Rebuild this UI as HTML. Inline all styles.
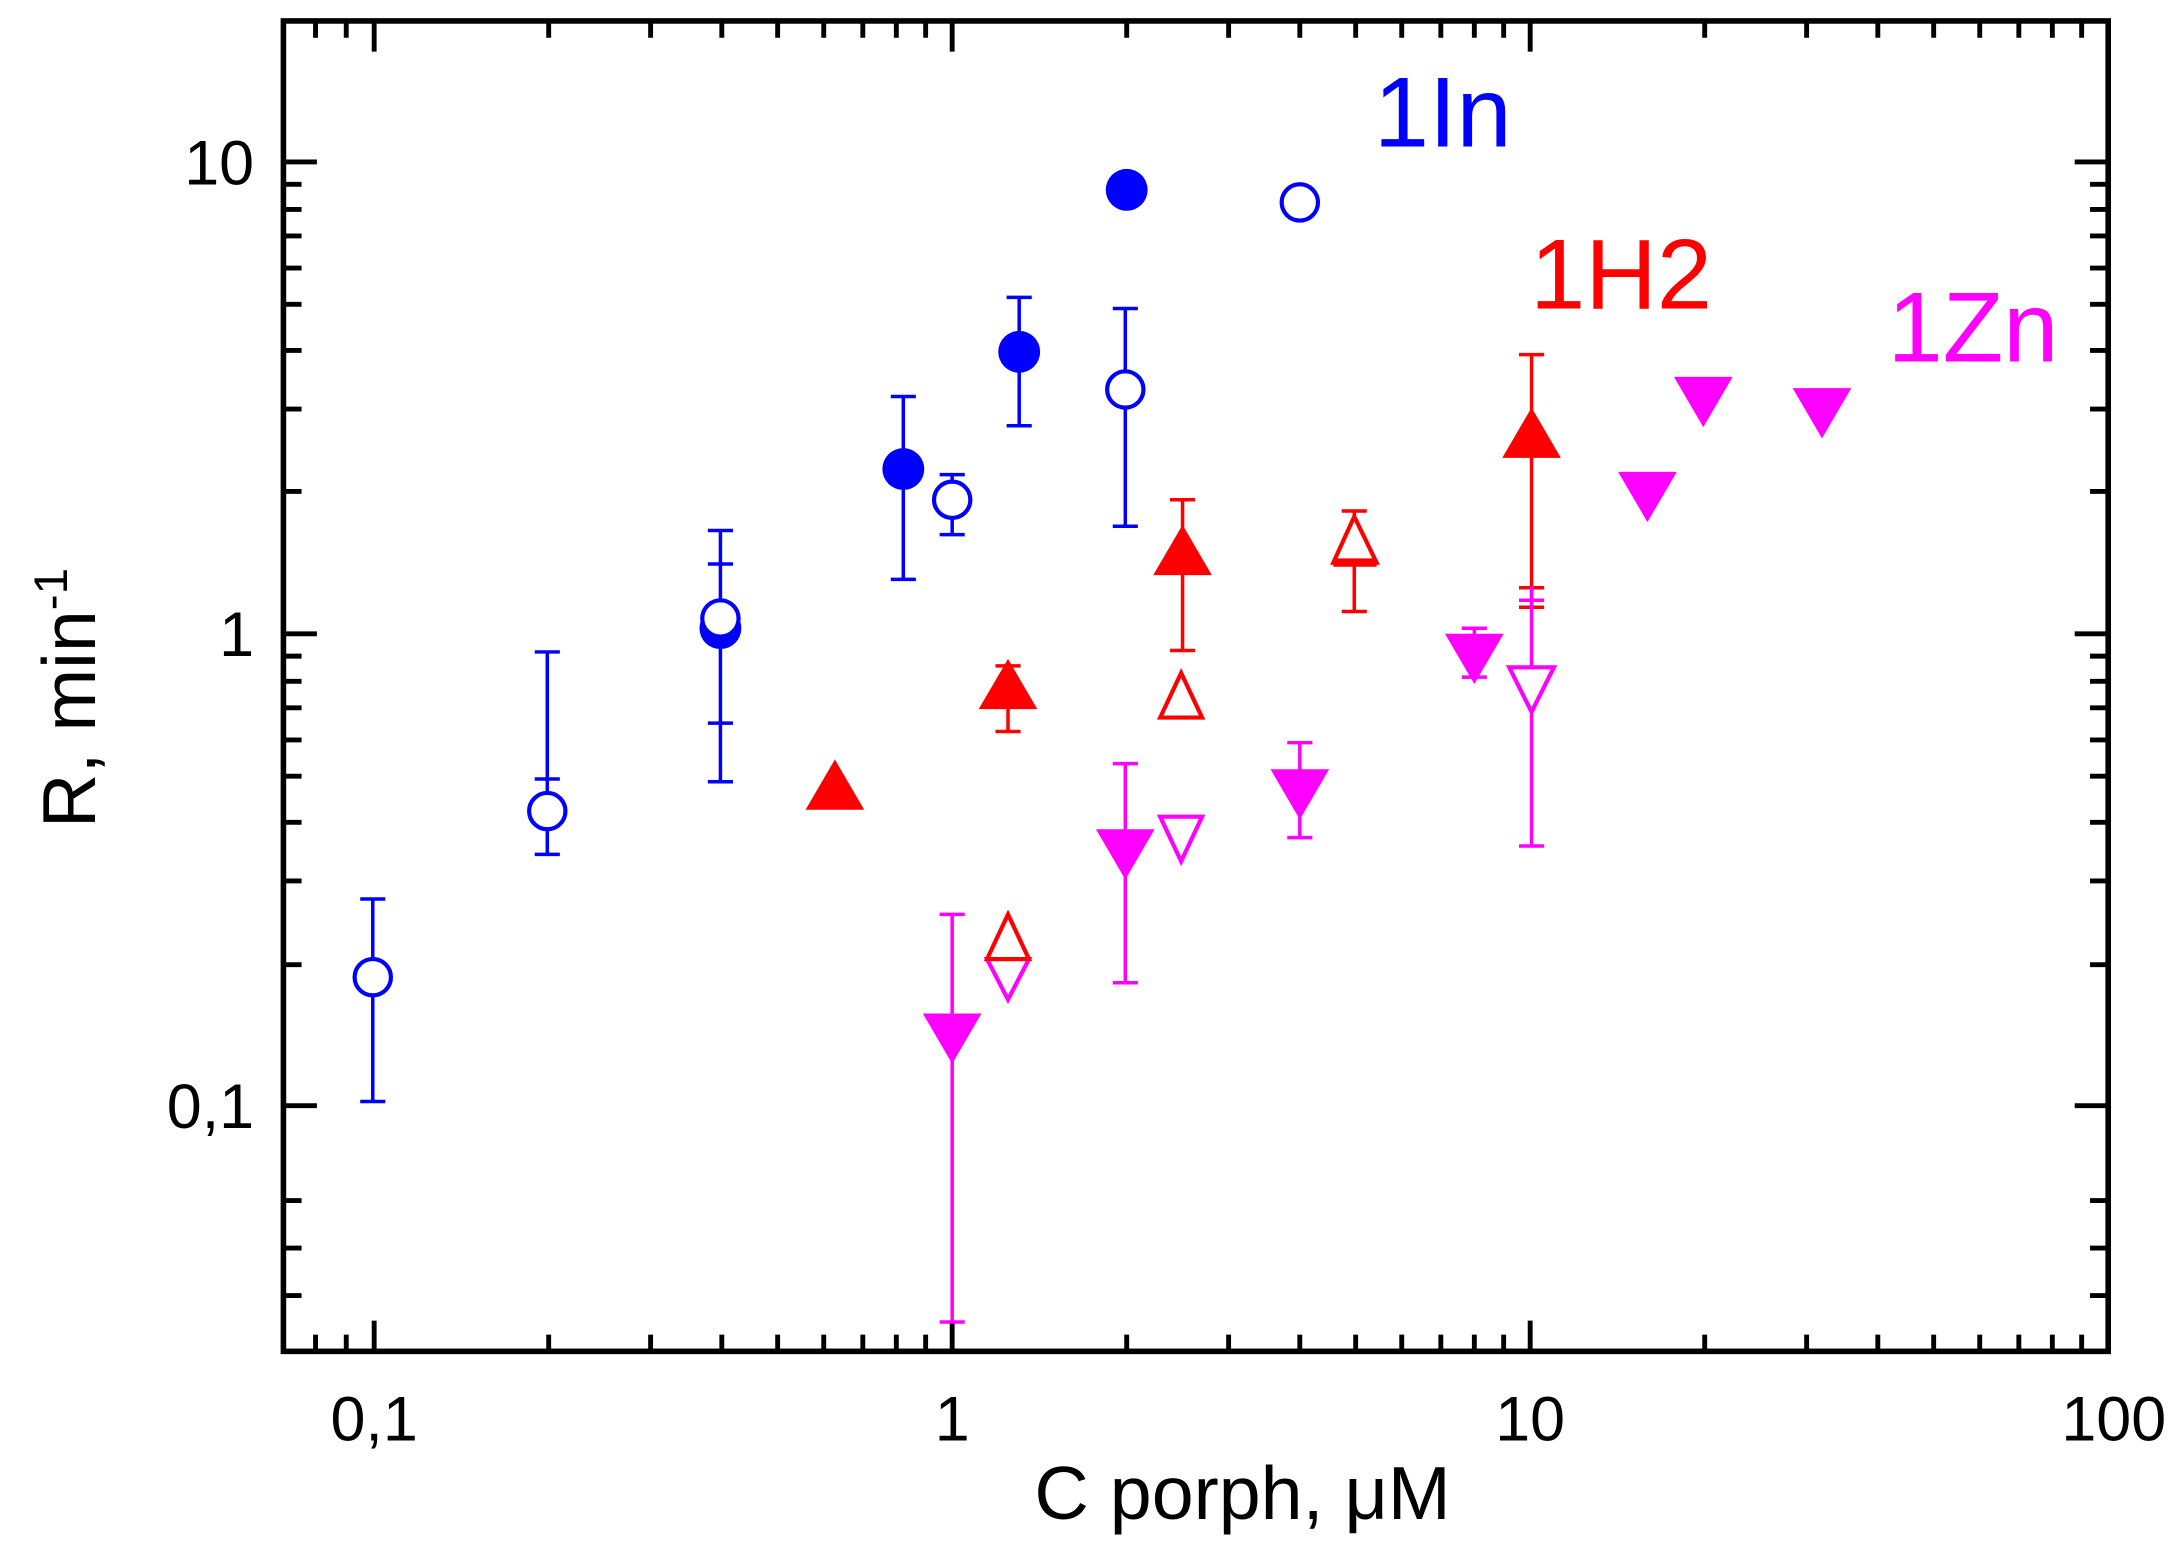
<!DOCTYPE html>
<html><head><meta charset="utf-8"><style>html,body{margin:0;padding:0;background:#fff}svg{display:block}</style></head>
<body>
<svg width="2178" height="1544" viewBox="0 0 1560 1106" preserveAspectRatio="none" xmlns="http://www.w3.org/2000/svg" font-family="Liberation Sans, Arial, sans-serif">
<defs>
<path id="tu" d="M0,-22 L21,14 L-21,14 Z"/>
<path id="td" d="M0,22 L21,-14 L-21,-14 Z"/>
</defs>
<rect x="0" y="0" width="1560" height="1106" fill="#fff"/>
<g stroke="#000" stroke-width="3.5">
<path d="M268,968v-22M682,968v-22M1096,968v-22M268,15v22M682,15v22M1096,15v22"/>
<path d="M226,968v-12M248,968v-12M393,968v-12M466,968v-12M517,968v-12M557,968v-12M590,968v-12M618,968v-12M642,968v-12M663,968v-12M807,968v-12M880,968v-12M931,968v-12M971,968v-12M1004,968v-12M1032,968v-12M1056,968v-12M1077,968v-12M1221,968v-12M1294,968v-12M1345,968v-12M1385,968v-12M1418,968v-12M1446,968v-12M1470,968v-12M1491,968v-12"/>
<path d="M226,15v12M248,15v12M393,15v12M466,15v12M517,15v12M557,15v12M590,15v12M618,15v12M642,15v12M663,15v12M807,15v12M880,15v12M931,15v12M971,15v12M1004,15v12M1032,15v12M1056,15v12M1077,15v12M1221,15v12M1294,15v12M1345,15v12M1385,15v12M1418,15v12M1446,15v12M1470,15v12M1491,15v12"/>
<path d="M203,116h24M203,454h24M203,792h24M1510,116h-24M1510,454h-24M1510,792h-24"/>
<path d="M203,928h13M203,894h13M203,860h13M203,691h13M203,631h13M203,589h13M203,556h13M203,530h13M203,507h13M203,488h13M203,470h13M203,352h13M203,293h13M203,251h13M203,218h13M203,192h13M203,169h13M203,150h13M203,132h13"/>
<path d="M1510,928h-13M1510,894h-13M1510,860h-13M1510,691h-13M1510,631h-13M1510,589h-13M1510,556h-13M1510,530h-13M1510,507h-13M1510,488h-13M1510,470h-13M1510,352h-13M1510,293h-13M1510,251h-13M1510,218h-13M1510,192h-13M1510,169h-13M1510,150h-13M1510,132h-13"/>
</g>
<rect x="203" y="15" width="1307" height="953" fill="none" stroke="#000" stroke-width="4"/>
<g font-size="45" fill="#000">
<text x="268" y="1032" text-anchor="middle">0,1</text>
<text x="682" y="1032" text-anchor="middle">1</text>
<text x="1096" y="1032" text-anchor="middle">10</text>
<text x="1514" y="1032" text-anchor="middle">100</text>
<text x="182" y="132" text-anchor="end">10</text>
<text x="182" y="470" text-anchor="end">1</text>
<text x="182" y="808" text-anchor="end">0,1</text>
</g>
<text x="890" y="1088" font-size="54" text-anchor="middle">C porph, μM</text>
<text transform="translate(68,500) rotate(-90)" font-size="54" text-anchor="middle">R, min<tspan font-size="34" dy="-20">-1</tspan></text>
<text x="984" y="105" font-size="71" fill="#0000ff">1In</text>
<text x="1096" y="221" font-size="71" fill="#ff0000">1H2</text>
<text x="1352" y="259" font-size="71" fill="#ff00ff">1Zn</text>
<g stroke="#0000ff" stroke-width="2.5" fill="none">
<path d="M267,644V789M258,644h18M258,789h18"/>
<path d="M392,467V612M383,467h18M383,558h18M383,612h18"/>
<path d="M516,380V560M507,380h18M507,404h18M507,518h18M507,560h18"/>
<path d="M682,340V383M673,340h18M673,383h18"/>
<path d="M647,284V415M638,284h18M638,415h18"/>
<path d="M730,213V305M721,213h18M721,305h18"/>
<path d="M806,221V377M797,221h18M797,377h18"/>
</g>
<g fill="#0000ff">
<circle cx="807" cy="136" r="15"/><circle cx="730" cy="252" r="15"/><circle cx="647" cy="336" r="15"/><circle cx="516" cy="450" r="15"/>
</g>
<g fill="#fff" stroke="#0000ff" stroke-width="3">
<circle cx="931" cy="145" r="13"/><circle cx="806" cy="279" r="13"/><circle cx="682" cy="358" r="13"/><circle cx="516" cy="443" r="13"/><circle cx="392" cy="581" r="13"/><circle cx="267" cy="700" r="13"/>
</g>
<g stroke="#ff0000" stroke-width="2.5" fill="none">
<path d="M722,477V524M713,477h18M713,524h18"/>
<path d="M847,358V466M838,358h18M838,466h18"/>
<path d="M970,366V438M961,366h18M961,438h18"/>
<path d="M1097,254V435M1088,254h18M1088,421h18M1088,435h18"/>
</g>
<g stroke="#ff00ff" stroke-width="2.5" fill="none">
<path d="M682,655V947M673,655h18M673,947h18"/>
<path d="M806,547V704M797,547h18M797,704h18"/>
<path d="M931,532V600M922,532h18M922,600h18"/>
<path d="M1056,450V485M1047,450h18M1047,485h18"/>
<path d="M1097,420V606M1088,606h18M1088,430h18"/>
</g>
<g fill="#ff0000">
<use href="#tu" x="598" y="566"/><use href="#tu" x="722" y="494"/><use href="#tu" x="847" y="398"/><use href="#tu" x="1097" y="314"/>
</g>
<g fill="#fff" stroke="#ff0000" stroke-width="3">
<path d="M846,482L861,514L831,514Z"/><path d="M970,370L986,403L955,403Z"/>
</g>
<path d="M955,403h31" stroke="#ff0000" stroke-width="6"/>
<g fill="#ff00ff">
<use href="#td" x="682" y="740"/><use href="#td" x="806" y="608"/><use href="#td" x="931" y="565"/><use href="#td" x="1056" y="468"/><use href="#td" x="1180" y="352"/><use href="#td" x="1220" y="284"/><use href="#td" x="1305" y="292"/>
</g>
<g fill="#fff" stroke="#ff00ff" stroke-width="3">
<path d="M722,716L737,687L707,687Z"/><path d="M846,617L861,585L831,585Z"/><path d="M1097,510L1113,478L1081,478Z"/>
</g>
<path d="M722,655L737,687L707,687Z" fill="none" stroke="#ff0000" stroke-width="3"/>
</svg>
</body></html>
